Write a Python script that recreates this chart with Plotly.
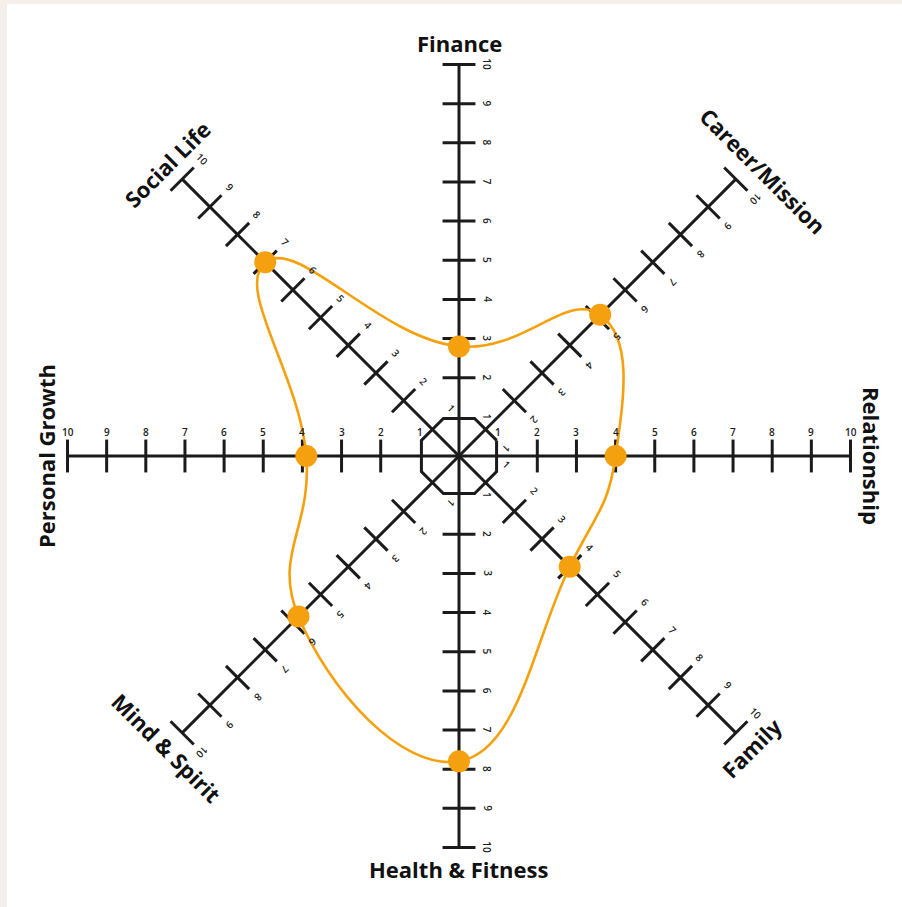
import numpy as np
import plotly.graph_objects as go

# ---- data ----
categories = ["Finance", "Career/Mission", "Relationship", "Family",
              "Health & Fitness", "Mind & Spirit", "Personal Growth", "Social Life"]
axis_angles = [90, 45, 0, -45, -90, -135, 180, 135]
scores = [2.8, 5.1, 4.0, 4.0, 7.8, 5.8, 3.9, 7.0]
tick_values = list(range(1, 11))
tick_labels = [str(v) for v in tick_values]

# ---- styling ----
W, H = 902, 907
CX, CY, UNIT = 459, 456, 39.15
INK = "#1b1b1b"
ORANGE = "#F5A10F"
FONT = "Open Sans"

label_angle = [0, 45, 90, -45, 0, 45, -90, -45]
label_radius = [10.55, 10.65, 10.55, 10.55, 10.55, 10.55, 10.55, 10.55]
label_perp = [0, 0.35, 0, 0, 0, 0, 0, 0]
tick_text_angle = [90, 135, 0, 45, 90, 135, 0, 45]
s2 = 1 / np.sqrt(2)
perp = [(1, 0), (s2, -s2), (0, 1), (s2, s2), (1, 0), (s2, -s2), (0, 1), (s2, s2)]

xr = [-CX / UNIT, (W - CX) / UNIT]
yr = [-(H - CY) / UNIT, CY / UNIT]

fig = go.Figure()

ax_x, ax_y = [], []
tk_x, tk_y = [], []
annotations = []
half = 0.42
for i, ang in enumerate(axis_angles):
    t = np.deg2rad(ang)
    dx, dy = np.cos(t), np.sin(t)
    ax_x += [0, 10 * dx, None]
    ax_y += [0, 10 * dy, None]
    px, py = perp[i]
    qx, qy = -dy, dx
    for v, lab in zip(tick_values, tick_labels):
        bx, by = v * dx, v * dy
        if v >= 2:
            tk_x += [bx - half * qx, bx + half * qx, None]
            tk_y += [by - half * qy, by + half * qy, None]
        off = 0.62 if ang in (0, 180) else 0.72
        annotations.append(dict(
            x=bx + off * px, y=by + off * py, text=lab, showarrow=False,
            textangle=tick_text_angle[i], xanchor="center", yanchor="middle",
            font=dict(family=FONT, size=10, color=INK, weight=600)))
    r = label_radius[i]
    annotations.append(dict(
        x=r * dx + label_perp[i] * px, y=r * dy + label_perp[i] * py,
        text=categories[i], showarrow=False,
        textangle=label_angle[i], xanchor="center", yanchor="middle",
        font=dict(family=FONT, size=22, color="#111111", weight=700)))

fig.add_trace(go.Scatter(x=ax_x, y=ax_y, mode="lines",
                         line=dict(color=INK, width=3), hoverinfo="skip"))
fig.add_trace(go.Scatter(x=tk_x, y=tk_y, mode="lines",
                         line=dict(color=INK, width=3), hoverinfo="skip"))

# centre octagon
oct_r = 0.96 / np.cos(np.deg2rad(22.5))
oa = np.deg2rad(np.arange(22.5, 22.5 + 360 + 1, 45))
fig.add_trace(go.Scatter(x=oct_r * np.cos(oa), y=oct_r * np.sin(oa), mode="lines",
                         line=dict(color=INK, width=3), hoverinfo="skip"))

# score curve
th = np.deg2rad(axis_angles)
sx = list(np.array(scores) * np.cos(th))
sy = list(np.array(scores) * np.sin(th))
fig.add_trace(go.Scatter(x=sx + [sx[0]], y=sy + [sy[0]], mode="lines",
                         line=dict(color=ORANGE, width=2.6, shape="spline", smoothing=1.3),
                         hoverinfo="skip"))
fig.add_trace(go.Scatter(x=sx, y=sy, mode="markers",
                         marker=dict(color=ORANGE, size=22), text=categories,
                         hovertemplate="%{text}<extra></extra>"))

fig.update_layout(
    width=W, height=H, autosize=False,
    margin=dict(l=0, r=0, t=0, b=0),
    paper_bgcolor="#f5efec", plot_bgcolor="rgba(0,0,0,0)",
    showlegend=False,
    xaxis=dict(range=xr, visible=False, fixedrange=True),
    yaxis=dict(range=yr, visible=False, fixedrange=True),
    annotations=annotations,
    shapes=[dict(type="rect", xref="paper", yref="paper",
                 x0=7 / W, x1=1, y0=0, y1=1 - 4 / H,
                 fillcolor="white", line=dict(width=0), layer="below")],
)

fig.write_html("out.html", config={"displayModeBar": False},
               post_script="document.body.style.margin='0';document.body.style.overflow='hidden';")
